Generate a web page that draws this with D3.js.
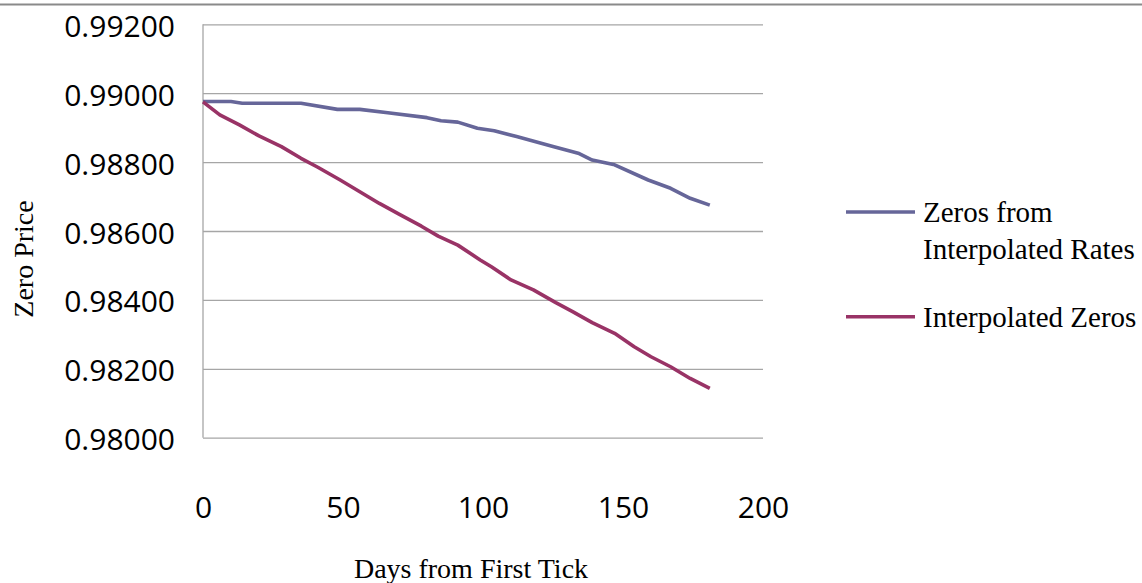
<!DOCTYPE html>
<html>
<head>
<meta charset="utf-8">
<script src="https://cdn.jsdelivr.net/npm/d3@7"></script>
<style>
  html, body { margin: 0; padding: 0; background: #fff; }
  svg { display: block; }
</style>
</head>
<body>
<svg id="chart" width="1142" height="583"></svg>
<script>
// ---- data ----
const xTicks = [0, 50, 100, 150, 200];
const yTicks = [0.980, 0.982, 0.984, 0.986, 0.988, 0.990, 0.992];

const seriesNames = ["Zeros from Interpolated Rates", "Interpolated Zeros"];

const ratesDays = [0, 10, 14, 35, 48, 56, 66, 80, 85, 91, 98, 104, 112, 125, 134, 139, 147, 159, 167, 174, 181];
const ratesValues = [0.98976, 0.98976, 0.98971, 0.98971, 0.98953, 0.98953, 0.98943, 0.98929, 0.98920, 0.98916,
                     0.98898, 0.98891, 0.98874, 0.98845, 0.98826, 0.98806, 0.98792, 0.98748, 0.98724, 0.98695, 0.98675];

const zerosDays = [0, 6, 13, 20, 28, 35, 41, 49, 56, 63, 70, 78, 84, 91, 99, 103, 110, 118, 126, 132, 139, 147, 154, 160, 167, 174, 181];
const zerosValues = [0.98975, 0.98937, 0.98908, 0.98876, 0.98845, 0.98811, 0.98785, 0.98748, 0.98714, 0.98680,
                     0.98649, 0.98614, 0.98585, 0.98559, 0.98516, 0.98496, 0.98458, 0.98429, 0.98392, 0.98366,
                     0.98334, 0.98303, 0.98264, 0.98235, 0.98206, 0.98172, 0.98143];

const colors = ["#666699", "#993366"];

// ---- layout ----
const svg = d3.select("#chart");
const W = 1142;
const plot = { left: 203, right: 763, top: 24.3, bottom: 437.7 };

const x = d3.scaleLinear().domain([0, 200]).range([plot.left, plot.right]);
const y = d3.scaleLinear().domain([0.980, 0.992]).range([plot.bottom, plot.top]);

const sansFont = "'Open Sans', 'Liberation Sans', sans-serif";
const serifFont = "'Liberation Serif', 'Times New Roman', serif";

// top border line
svg.append("line")
  .attr("x1", 0).attr("x2", W)
  .attr("y1", 4.5).attr("y2", 4.5)
  .attr("stroke", "#8a8a8a").attr("stroke-width", 2);

// gridlines
const grid = svg.append("g")
  .attr("transform", `translate(${plot.left},0)`)
  .call(d3.axisLeft(y).tickValues(yTicks).tickSize(-(plot.right - plot.left)).tickFormat(""));
grid.select(".domain").remove();
grid.selectAll(".tick line").attr("stroke", "#a6a6a6").attr("stroke-width", 1.3);

// left axis line
svg.append("line")
  .attr("x1", plot.left).attr("x2", plot.left)
  .attr("y1", plot.top).attr("y2", plot.bottom)
  .attr("stroke", "#a6a6a6").attr("stroke-width", 1.3);

// y tick labels
const yAxis = svg.append("g")
  .attr("transform", `translate(${plot.left},0)`)
  .call(d3.axisLeft(y).tickValues(yTicks).tickSize(0).tickPadding(28).tickFormat(d3.format(".5f")));
yAxis.select(".domain").remove();
yAxis.selectAll("text")
  .attr("font-family", sansFont).attr("font-size", 30).attr("fill", "#000")
  .attr("dy", "0.4em");

// x tick labels
const xAxis = svg.append("g")
  .attr("transform", `translate(0,${plot.bottom})`)
  .call(d3.axisBottom(x).tickValues(xTicks).tickSize(0).tickPadding(59).tickFormat(d3.format("d")));
xAxis.select(".domain").remove();
xAxis.selectAll("text")
  .attr("font-family", sansFont).attr("font-size", 30).attr("fill", "#000");

// lines
const line = d3.line().x(d => x(d[0])).y(d => y(d[1]));
const seriesData = [
  d3.zip(ratesDays, ratesValues),
  d3.zip(zerosDays, zerosValues)
];
svg.append("g").selectAll("path")
  .data(seriesData)
  .join("path")
  .attr("d", line)
  .attr("fill", "none")
  .attr("stroke", (d, i) => colors[i])
  .attr("stroke-width", 3.6)
  .attr("stroke-linejoin", "round");

// axis titles
svg.append("text")
  .attr("x", 471).attr("y", 578)
  .attr("text-anchor", "middle")
  .attr("font-family", serifFont).attr("font-size", 28)
  .text("Days from First Tick");

svg.append("text")
  .attr("transform", "translate(33,259) rotate(-90)")
  .attr("text-anchor", "middle")
  .attr("font-family", serifFont).attr("font-size", 28)
  .text("Zero Price");

// legend
const legend = svg.append("g");
const legendItems = [
  { lines: ["Zeros from", "Interpolated Rates"], y: 212, color: colors[0] },
  { lines: ["Interpolated Zeros"], y: 316.7, color: colors[1] }
];
legendItems.forEach(item => {
  legend.append("line")
    .attr("x1", 846).attr("x2", 915)
    .attr("y1", item.y).attr("y2", item.y)
    .attr("stroke", item.color).attr("stroke-width", 3.6);
  const t = legend.append("text")
    .attr("font-family", serifFont).attr("font-size", 29).attr("fill", "#000");
  item.lines.forEach((s, k) => {
    t.append("tspan")
      .attr("x", 923)
      .attr("y", item.y + 10 + k * 36.6)
      .text(s);
  });
});
</script>
</body>
</html>
